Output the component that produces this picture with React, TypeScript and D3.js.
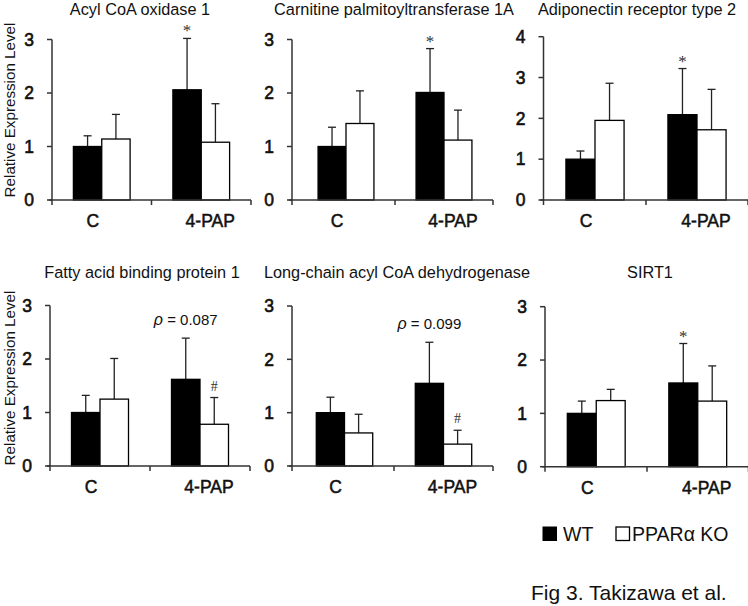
import React from 'react';
import * as d3 from 'd3';

const titles = [
  'Acyl CoA oxidase 1',
  'Carnitine palmitoyltransferase 1A',
  'Adiponectin receptor type 2',
  'Fatty acid binding protein 1',
  'Long-chain acyl CoA dehydrogenase',
  'SIRT1',
];
const categories = ['C', '4-PAP'];
const seriesNames = ['WT', 'PPARα KO'];
const wtMean = [[1.0, 2.06], [1.0, 2.01], [1.0, 2.09], [1.0, 1.62], [1.0, 1.55], [1.0, 1.57]];
const wtSD = [[0.2, 0.96], [0.36, 0.82], [0.2, 1.13], [0.32, 0.77], [0.29, 0.77], [0.23, 0.74]];
const koMean = [[1.14, 1.08], [1.43, 1.12], [1.95, 1.72], [1.25, 0.78], [0.62, 0.41], [1.24, 1.23]];
const koSD = [[0.46, 0.72], [0.61, 0.56], [0.91, 0.99], [0.76, 0.5], [0.35, 0.26], [0.21, 0.66]];
const yMax = [3, 3, 4, 3, 3, 3];
const wtMarks = [['', '*'], ['', '*'], ['', '*'], ['', 'ρ = 0.087'], ['', 'ρ = 0.099'], ['', '*']];
const koMarks = [['', ''], ['', ''], ['', ''], ['', '#'], ['', '#'], ['', '']];
const yLabel = 'Relative Expression Level';
const caption = 'Fig 3. Takizawa et al.';

// layout frames (axis placement)
const frames = [
  { ax: 52, b0: 52, b1: 251, top: 39.5, base: 200, titleY: 15, tx: 140 },
  { ax: 292, b0: 297, b1: 493, top: 39.5, base: 200, titleY: 15, tx: 394 },
  { ax: 543.5, b0: 544, b1: 748, top: 36.7, base: 200, titleY: 15, tx: 637 },
  { ax: 50, b0: 50, b1: 250, top: 305.5, base: 466, titleY: 278, tx: 142 },
  { ax: 292, b0: 295, b1: 493, top: 306, base: 466, titleY: 278, tx: 397 },
  { ax: 545, b0: 545.5, b1: 748.5, top: 306.7, base: 466.7, titleY: 278, tx: 650 },
];

const FONT = '"Liberation Sans", Arial, sans-serif';
const SERIF = '"Liberation Serif", "Times New Roman", serif';

function Panel({ i }: { i: number }) {
  const f = frames[i];
  const y = d3.scaleLinear().domain([0, yMax[i]]).range([f.base, f.top]);
  const x = d3.scaleBand<string>().domain(categories).range([f.b0, f.b1]).paddingInner(0.43).paddingOuter(0.215);
  const xs = d3.scaleBand<string>().domain(seriesNames).range([0, x.bandwidth()]);
  const ticks = d3.range(0, yMax[i] + 1);
  const means = [wtMean[i], koMean[i]];
  const sds = [wtSD[i], koSD[i]];
  const marks = [wtMarks[i], koMarks[i]];
  const mid = (x(categories[0])! + x.bandwidth() + x(categories[1])!) / 2;
  const labelOffset = [-9, 9];
  return (
    <g>
      <text x={f.tx} y={f.titleY} textAnchor="middle" fontSize={16.3} fontFamily={FONT} fill="#111">{titles[i]}</text>
      {seriesNames.map((s, si) =>
        categories.map((c, ci) => {
          const bx = x(c)! + xs(s)!;
          const w = xs.bandwidth();
          const m = means[si][ci];
          const top = m + sds[si][ci];
          const cx = bx + w / 2;
          const mk = marks[si][ci];
          return (
            <g key={s + c}>
              <line x1={cx} x2={cx} y1={y(m)} y2={y(top)} stroke="#222" strokeWidth={1.3} />
              <line x1={cx - 4} x2={cx + 4} y1={y(top)} y2={y(top)} stroke="#222" strokeWidth={1.3} />
              <rect x={bx} y={y(m)} width={w} height={y(0) - y(m)} fill={si === 0 ? '#000' : '#fff'} stroke="#000" strokeWidth={1.3} />
              {mk === '*' && (
                <text x={cx} y={y(top) - 2} textAnchor="middle" fontSize={17} fontFamily={SERIF} fill="#333">*</text>
              )}
              {mk === '#' && (
                <text x={cx} y={y(top) - 7} textAnchor="middle" fontSize={14} fontFamily={SERIF} fill="#333">#</text>
              )}
              {mk.startsWith('ρ') && (
                <text x={cx} y={y(top) - 13} textAnchor="middle" fontSize={15} fontFamily={FONT} fill="#111">
                  <tspan fontStyle="italic" fontSize={16}>ρ</tspan>
                  <tspan>{mk.slice(1)}</tspan>
                </text>
              )}
            </g>
          );
        })
      )}
      <line x1={f.ax} x2={f.ax} y1={y(0)} y2={y(yMax[i])} stroke="#333" strokeWidth={1.5} />
      {ticks.map((t) => (
        <g key={t}>
          <line x1={f.ax - 5} x2={f.ax} y1={y(t)} y2={y(t)} stroke="#333" strokeWidth={1.5} />
          <text x={f.ax - 18} y={y(t)} dy="0.36em" textAnchor="end" fontSize={17.5} fontFamily={FONT} fill="#111" stroke="#111" strokeWidth={0.6}>{t}</text>
        </g>
      ))}
      <line x1={f.ax - 3} x2={f.b1} y1={y(0)} y2={y(0)} stroke="#333" strokeWidth={1.5} />
      {[f.ax, mid, f.b1].map((tx, k) => (
        <line key={k} x1={tx} x2={tx} y1={y(0)} y2={y(0) + 5} stroke="#333" strokeWidth={1.5} />
      ))}
      {categories.map((c, ci) => (
        <text key={c} x={x(c)! + x.bandwidth() / 2 + labelOffset[ci]} y={y(0) + 27} textAnchor="middle" fontSize={17.5} fontFamily={FONT} fill="#111" stroke="#111" strokeWidth={0.5}>{c}</text>
      ))}
    </g>
  );
}

export default function App() {
  return (
    <svg width={748} height={606} style={{ position: 'absolute', left: 0, top: 0, background: '#fff' }}>
      <rect width={748} height={606} fill="#fff" />
      {titles.map((_, i) => <Panel key={i} i={i} />)}
      {[110, 378].map((cy, k) => (
        <text key={k} transform={`translate(15,${cy}) rotate(-90)`} textAnchor="middle" fontSize={15.2} fontFamily={FONT} fill="#111">{yLabel}</text>
      ))}
      <rect x={543} y={527} width={13.5} height={13.5} fill="#000" stroke="#000" />
      <text x={563} y={541} fontSize={19.5} fontFamily={FONT} fill="#111">{seriesNames[0]}</text>
      <rect x={616} y={527} width={13.5} height={13.5} fill="#fff" stroke="#000" strokeWidth={1.3} />
      <text x={632} y={541} fontSize={19.5} fontFamily={FONT} fill="#111">{seriesNames[1]}</text>
      <text x={531} y={600} fontSize={21} fontFamily={FONT} fill="#111">{caption}</text>
    </svg>
  );
}
